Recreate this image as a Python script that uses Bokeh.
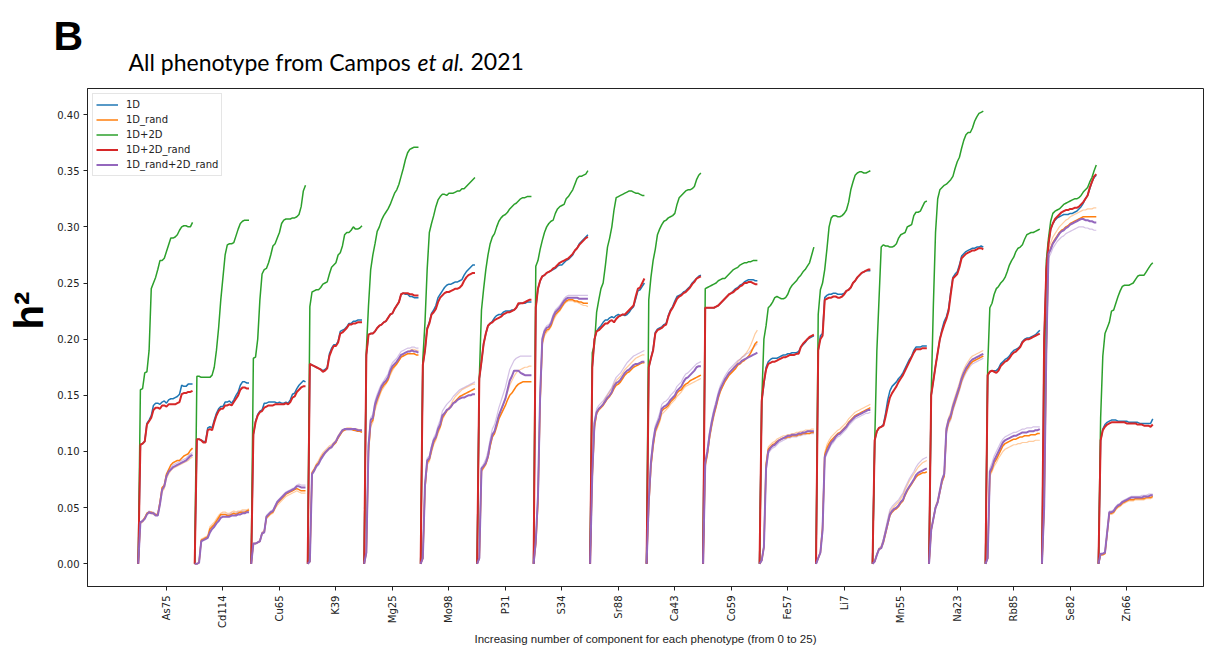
import math
from bokeh.plotting import figure
from bokeh.layouts import column, row
from bokeh.models import Range1d, FixedTicker, Label, Legend, LegendItem, NumeralTickFormatter
from bokeh.embed import file_html
from bokeh.resources import INLINE

phenotypes = ["As75", "Cd114", "Cu65", "K39", "Mg25", "Mo98", "P31", "S34", "Sr88",
              "Ca43", "Co59", "Fe57", "Li7", "Mn55", "Na23", "Rb85", "Se82", "Zn66"]
n_components = 26  # 0..25 components per phenotype
y_ticks = [0.00, 0.05, 0.10, 0.15, 0.20, 0.25, 0.30, 0.35, 0.40]

# h2 for "1D"
h2_1D = [
    [0, 0.106, 0.107, 0.109, 0.125, 0.128, 0.132, 0.141, 0.143, 0.143, 0.142, 0.144, 0.145, 0.143, 0.146, 0.147, 0.147, 0.148, 0.149, 0.151, 0.159, 0.158, 0.158, 0.160, 0.160, 0.160],
    [0, 0.111, 0.111, 0.110, 0.109, 0.109, 0.121, 0.122, 0.121, 0.128, 0.134, 0.138, 0.140, 0.140, 0.144, 0.144, 0.145, 0.143, 0.146, 0.150, 0.153, 0.159, 0.162, 0.162, 0.161, 0.161],
    [0, 0.115, 0.127, 0.133, 0.136, 0.137, 0.143, 0.143, 0.144, 0.144, 0.144, 0.144, 0.143, 0.144, 0.143, 0.143, 0.144, 0.143, 0.146, 0.151, 0.152, 0.156, 0.159, 0.161, 0.163, 0.162],
    [0, 0.178, 0.177, 0.176, 0.175, 0.174, 0.173, 0.172, 0.173, 0.175, 0.187, 0.192, 0.195, 0.195, 0.198, 0.207, 0.208, 0.209, 0.211, 0.214, 0.214, 0.216, 0.216, 0.217, 0.217, 0.217],
    [0, 0.186, 0.204, 0.205, 0.205, 0.207, 0.210, 0.212, 0.213, 0.215, 0.216, 0.219, 0.222, 0.223, 0.227, 0.230, 0.233, 0.240, 0.241, 0.240, 0.240, 0.238, 0.238, 0.237, 0.237, 0.237],
    [0, 0.177, 0.190, 0.210, 0.215, 0.223, 0.226, 0.230, 0.237, 0.240, 0.243, 0.246, 0.248, 0.249, 0.249, 0.250, 0.251, 0.251, 0.252, 0.253, 0.257, 0.260, 0.262, 0.264, 0.266, 0.266],
    [0, 0.165, 0.180, 0.196, 0.205, 0.212, 0.214, 0.216, 0.219, 0.221, 0.222, 0.222, 0.224, 0.225, 0.225, 0.225, 0.226, 0.226, 0.228, 0.231, 0.232, 0.232, 0.232, 0.233, 0.233, 0.233],
    [0, 0.228, 0.245, 0.252, 0.256, 0.257, 0.259, 0.260, 0.261, 0.262, 0.263, 0.265, 0.266, 0.266, 0.268, 0.270, 0.271, 0.273, 0.275, 0.279, 0.281, 0.285, 0.287, 0.289, 0.291, 0.293],
    [0, 0.175, 0.200, 0.207, 0.210, 0.212, 0.215, 0.217, 0.217, 0.219, 0.220, 0.219, 0.221, 0.222, 0.221, 0.222, 0.221, 0.222, 0.224, 0.227, 0.229, 0.236, 0.243, 0.244, 0.247, 0.250],
    [0, 0.175, 0.183, 0.191, 0.206, 0.209, 0.210, 0.211, 0.213, 0.214, 0.221, 0.226, 0.229, 0.234, 0.238, 0.239, 0.240, 0.242, 0.243, 0.245, 0.247, 0.250, 0.252, 0.254, 0.256, 0.257],
    [0, 0.228, 0.228, 0.228, 0.228, 0.228, 0.229, 0.230, 0.232, 0.234, 0.236, 0.238, 0.240, 0.241, 0.243, 0.245, 0.246, 0.248, 0.249, 0.251, 0.252, 0.253, 0.253, 0.253, 0.252, 0.252],
    [0, 0.145, 0.160, 0.175, 0.180, 0.182, 0.183, 0.183, 0.183, 0.184, 0.185, 0.186, 0.186, 0.187, 0.187, 0.188, 0.188, 0.188, 0.189, 0.193, 0.195, 0.197, 0.200, 0.201, 0.202, 0.203],
    [0, 0.190, 0.203, 0.205, 0.237, 0.239, 0.240, 0.240, 0.241, 0.241, 0.240, 0.240, 0.240, 0.241, 0.243, 0.244, 0.246, 0.250, 0.252, 0.255, 0.257, 0.259, 0.260, 0.261, 0.261, 0.261],
    [0, 0.110, 0.118, 0.121, 0.122, 0.124, 0.134, 0.146, 0.154, 0.158, 0.160, 0.162, 0.165, 0.167, 0.170, 0.174, 0.178, 0.182, 0.185, 0.190, 0.193, 0.193, 0.193, 0.194, 0.194, 0.194],
    [0, 0.150, 0.163, 0.176, 0.188, 0.200, 0.209, 0.216, 0.220, 0.227, 0.242, 0.255, 0.258, 0.260, 0.266, 0.274, 0.276, 0.278, 0.279, 0.280, 0.281, 0.281, 0.282, 0.282, 0.283, 0.282],
    [0, 0.168, 0.171, 0.172, 0.172, 0.172, 0.174, 0.178, 0.180, 0.182, 0.183, 0.185, 0.188, 0.190, 0.191, 0.192, 0.194, 0.198, 0.200, 0.201, 0.201, 0.202, 0.203, 0.204, 0.206, 0.208],
    [0, 0.200, 0.262, 0.285, 0.298, 0.303, 0.306, 0.308, 0.309, 0.310, 0.311, 0.311, 0.311, 0.312, 0.312, 0.313, 0.314, 0.316, 0.318, 0.321, 0.325, 0.328, 0.334, 0.340, 0.344, 0.346],
    [0, 0.110, 0.120, 0.124, 0.126, 0.127, 0.128, 0.128, 0.128, 0.127, 0.127, 0.127, 0.127, 0.127, 0.126, 0.126, 0.126, 0.126, 0.126, 0.125, 0.125, 0.125, 0.125, 0.125, 0.125, 0.129],
]

# h2 for "1D_rand" (main run)
h2_1D_rand = [
    [0, 0.037, 0.038, 0.041, 0.045, 0.046, 0.046, 0.045, 0.044, 0.044, 0.055, 0.068, 0.070, 0.080, 0.084, 0.088, 0.090, 0.091, 0.092, 0.092, 0.094, 0.096, 0.097, 0.098, 0.101, 0.103],
    [0, 0.000, 0.001, 0.021, 0.022, 0.023, 0.024, 0.031, 0.033, 0.035, 0.038, 0.041, 0.044, 0.044, 0.044, 0.043, 0.043, 0.044, 0.045, 0.044, 0.045, 0.046, 0.046, 0.046, 0.047, 0.048],
    [0, 0.018, 0.018, 0.019, 0.020, 0.027, 0.028, 0.041, 0.043, 0.045, 0.046, 0.050, 0.054, 0.056, 0.058, 0.060, 0.062, 0.063, 0.064, 0.065, 0.066, 0.067, 0.066, 0.065, 0.065, 0.065],
    [0, 0.002, 0.081, 0.084, 0.088, 0.090, 0.094, 0.097, 0.099, 0.101, 0.103, 0.104, 0.106, 0.108, 0.112, 0.115, 0.118, 0.119, 0.120, 0.120, 0.120, 0.119, 0.119, 0.118, 0.118, 0.117],
    [0, 0.010, 0.100, 0.125, 0.128, 0.140, 0.146, 0.151, 0.156, 0.159, 0.161, 0.164, 0.170, 0.174, 0.176, 0.178, 0.181, 0.184, 0.185, 0.186, 0.187, 0.187, 0.187, 0.187, 0.186, 0.186],
    [0, 0.005, 0.068, 0.090, 0.093, 0.101, 0.108, 0.112, 0.118, 0.122, 0.130, 0.133, 0.136, 0.138, 0.140, 0.143, 0.145, 0.147, 0.149, 0.150, 0.151, 0.152, 0.153, 0.154, 0.155, 0.156],
    [0, 0.005, 0.083, 0.086, 0.089, 0.095, 0.105, 0.113, 0.116, 0.122, 0.129, 0.133, 0.137, 0.141, 0.146, 0.150, 0.152, 0.155, 0.158, 0.160, 0.161, 0.162, 0.162, 0.162, 0.162, 0.162],
    [0, 0.018, 0.055, 0.145, 0.197, 0.205, 0.208, 0.209, 0.212, 0.218, 0.222, 0.224, 0.226, 0.229, 0.232, 0.234, 0.235, 0.235, 0.235, 0.234, 0.234, 0.233, 0.233, 0.232, 0.232, 0.232],
    [0, 0.078, 0.122, 0.134, 0.137, 0.139, 0.141, 0.144, 0.147, 0.149, 0.152, 0.156, 0.159, 0.160, 0.162, 0.165, 0.168, 0.170, 0.171, 0.173, 0.175, 0.176, 0.177, 0.178, 0.179, 0.179],
    [0, 0.052, 0.087, 0.105, 0.118, 0.123, 0.128, 0.136, 0.138, 0.139, 0.141, 0.144, 0.146, 0.148, 0.152, 0.154, 0.155, 0.158, 0.160, 0.161, 0.163, 0.164, 0.165, 0.166, 0.167, 0.168],
    [0, 0.088, 0.098, 0.113, 0.124, 0.133, 0.140, 0.148, 0.154, 0.158, 0.162, 0.165, 0.168, 0.170, 0.172, 0.174, 0.177, 0.178, 0.180, 0.181, 0.183, 0.185, 0.188, 0.192, 0.196, 0.198],
    [0, 0.003, 0.015, 0.088, 0.102, 0.104, 0.106, 0.107, 0.109, 0.110, 0.111, 0.112, 0.112, 0.113, 0.113, 0.114, 0.114, 0.114, 0.115, 0.115, 0.116, 0.116, 0.116, 0.116, 0.117, 0.117],
    [0, 0.005, 0.010, 0.032, 0.097, 0.103, 0.107, 0.110, 0.112, 0.114, 0.116, 0.117, 0.119, 0.121, 0.123, 0.126, 0.128, 0.130, 0.132, 0.133, 0.134, 0.135, 0.136, 0.137, 0.138, 0.139],
    [0, 0.002, 0.008, 0.013, 0.014, 0.019, 0.027, 0.035, 0.043, 0.046, 0.048, 0.049, 0.051, 0.054, 0.056, 0.061, 0.065, 0.068, 0.071, 0.074, 0.077, 0.079, 0.080, 0.081, 0.081, 0.082],
    [0, 0.030, 0.040, 0.050, 0.055, 0.064, 0.073, 0.078, 0.118, 0.126, 0.130, 0.138, 0.144, 0.150, 0.156, 0.163, 0.168, 0.172, 0.175, 0.178, 0.180, 0.181, 0.182, 0.183, 0.184, 0.185],
    [0, 0.005, 0.080, 0.084, 0.090, 0.093, 0.097, 0.101, 0.105, 0.107, 0.108, 0.109, 0.110, 0.111, 0.111, 0.112, 0.113, 0.113, 0.114, 0.114, 0.114, 0.115, 0.115, 0.115, 0.116, 0.116],
    [0, 0.050, 0.190, 0.276, 0.281, 0.286, 0.289, 0.292, 0.295, 0.297, 0.298, 0.300, 0.301, 0.303, 0.304, 0.305, 0.306, 0.307, 0.308, 0.309, 0.309, 0.309, 0.309, 0.309, 0.309, 0.309],
    [0, 0.008, 0.008, 0.009, 0.027, 0.045, 0.045, 0.046, 0.049, 0.051, 0.052, 0.054, 0.055, 0.056, 0.057, 0.057, 0.057, 0.058, 0.058, 0.058, 0.058, 0.058, 0.059, 0.059, 0.059, 0.060],
]

# h2 for "1D_rand" (another random run, drawn faint)
h2_1D_rand_rep = [
    [0, 0.036, 0.037, 0.040, 0.044, 0.045, 0.045, 0.044, 0.043, 0.043, 0.052, 0.064, 0.067, 0.076, 0.080, 0.083, 0.085, 0.086, 0.087, 0.088, 0.089, 0.090, 0.091, 0.092, 0.094, 0.095],
    [0, 0.000, 0.001, 0.022, 0.023, 0.024, 0.025, 0.033, 0.035, 0.037, 0.040, 0.043, 0.045, 0.046, 0.046, 0.045, 0.045, 0.046, 0.047, 0.046, 0.047, 0.047, 0.048, 0.048, 0.048, 0.049],
    [0, 0.018, 0.018, 0.019, 0.021, 0.028, 0.030, 0.040, 0.042, 0.044, 0.045, 0.049, 0.052, 0.054, 0.056, 0.058, 0.060, 0.061, 0.062, 0.063, 0.064, 0.065, 0.064, 0.063, 0.063, 0.063],
    [0, 0.002, 0.082, 0.085, 0.089, 0.092, 0.096, 0.099, 0.101, 0.103, 0.105, 0.106, 0.108, 0.110, 0.114, 0.117, 0.119, 0.120, 0.121, 0.121, 0.121, 0.120, 0.120, 0.120, 0.119, 0.119],
    [0, 0.010, 0.098, 0.122, 0.126, 0.137, 0.143, 0.149, 0.154, 0.157, 0.160, 0.163, 0.168, 0.172, 0.175, 0.178, 0.181, 0.184, 0.186, 0.188, 0.189, 0.190, 0.191, 0.191, 0.190, 0.190],
    [0, 0.005, 0.066, 0.088, 0.091, 0.099, 0.106, 0.110, 0.116, 0.121, 0.128, 0.132, 0.136, 0.139, 0.142, 0.146, 0.149, 0.151, 0.153, 0.155, 0.156, 0.157, 0.158, 0.159, 0.160, 0.160],
    [0, 0.005, 0.082, 0.085, 0.088, 0.094, 0.104, 0.112, 0.117, 0.124, 0.132, 0.137, 0.142, 0.147, 0.153, 0.159, 0.163, 0.167, 0.170, 0.172, 0.173, 0.174, 0.175, 0.175, 0.176, 0.176],
    [0, 0.018, 0.055, 0.140, 0.195, 0.203, 0.206, 0.208, 0.211, 0.216, 0.220, 0.223, 0.225, 0.228, 0.231, 0.233, 0.234, 0.234, 0.234, 0.233, 0.233, 0.232, 0.231, 0.230, 0.230, 0.229],
    [0, 0.076, 0.120, 0.133, 0.137, 0.140, 0.143, 0.147, 0.150, 0.153, 0.156, 0.160, 0.163, 0.165, 0.167, 0.170, 0.173, 0.175, 0.177, 0.179, 0.181, 0.183, 0.184, 0.185, 0.186, 0.186],
    [0, 0.050, 0.085, 0.103, 0.116, 0.121, 0.126, 0.133, 0.135, 0.137, 0.139, 0.142, 0.144, 0.146, 0.149, 0.151, 0.153, 0.156, 0.158, 0.159, 0.160, 0.161, 0.162, 0.163, 0.164, 0.165],
    [0, 0.086, 0.096, 0.111, 0.122, 0.131, 0.139, 0.147, 0.153, 0.158, 0.162, 0.166, 0.169, 0.172, 0.175, 0.177, 0.180, 0.182, 0.184, 0.186, 0.188, 0.191, 0.195, 0.200, 0.205, 0.208],
    [0, 0.003, 0.016, 0.090, 0.104, 0.106, 0.108, 0.109, 0.111, 0.112, 0.113, 0.114, 0.114, 0.115, 0.115, 0.116, 0.116, 0.117, 0.117, 0.118, 0.118, 0.119, 0.119, 0.119, 0.120, 0.120],
    [0, 0.005, 0.011, 0.034, 0.099, 0.106, 0.110, 0.113, 0.115, 0.117, 0.119, 0.120, 0.122, 0.124, 0.126, 0.129, 0.131, 0.133, 0.135, 0.136, 0.137, 0.138, 0.139, 0.140, 0.141, 0.142],
    [0, 0.002, 0.009, 0.014, 0.016, 0.022, 0.030, 0.038, 0.046, 0.049, 0.051, 0.053, 0.055, 0.058, 0.061, 0.066, 0.070, 0.074, 0.077, 0.080, 0.083, 0.086, 0.088, 0.090, 0.091, 0.092],
    [0, 0.030, 0.041, 0.051, 0.057, 0.066, 0.075, 0.081, 0.122, 0.130, 0.135, 0.143, 0.149, 0.155, 0.161, 0.168, 0.173, 0.177, 0.180, 0.183, 0.185, 0.186, 0.187, 0.188, 0.189, 0.190],
    [0, 0.005, 0.078, 0.082, 0.087, 0.090, 0.094, 0.097, 0.100, 0.102, 0.103, 0.104, 0.105, 0.106, 0.106, 0.107, 0.107, 0.108, 0.108, 0.108, 0.109, 0.109, 0.109, 0.110, 0.110, 0.110],
    [0, 0.050, 0.195, 0.280, 0.286, 0.291, 0.294, 0.297, 0.300, 0.302, 0.304, 0.306, 0.307, 0.309, 0.310, 0.311, 0.312, 0.313, 0.314, 0.315, 0.315, 0.316, 0.316, 0.316, 0.317, 0.317],
    [0, 0.008, 0.008, 0.009, 0.026, 0.044, 0.044, 0.045, 0.048, 0.050, 0.051, 0.053, 0.054, 0.055, 0.056, 0.056, 0.056, 0.057, 0.057, 0.057, 0.057, 0.057, 0.058, 0.058, 0.058, 0.059],
]

# h2 for "1D+2D"
h2_1D_2D = [
    [0, 0.155, 0.156, 0.170, 0.171, 0.190, 0.245, 0.250, 0.255, 0.262, 0.270, 0.270, 0.272, 0.278, 0.284, 0.290, 0.290, 0.291, 0.293, 0.297, 0.300, 0.301, 0.301, 0.300, 0.300, 0.304],
    [0, 0.167, 0.167, 0.166, 0.166, 0.166, 0.166, 0.166, 0.168, 0.175, 0.190, 0.210, 0.235, 0.255, 0.275, 0.284, 0.285, 0.285, 0.286, 0.292, 0.298, 0.303, 0.305, 0.306, 0.306, 0.306],
    [0, 0.183, 0.184, 0.200, 0.235, 0.258, 0.262, 0.263, 0.268, 0.275, 0.283, 0.285, 0.290, 0.295, 0.303, 0.306, 0.307, 0.307, 0.307, 0.308, 0.308, 0.309, 0.311, 0.318, 0.332, 0.337],
    [0, 0.229, 0.242, 0.243, 0.244, 0.244, 0.246, 0.249, 0.250, 0.251, 0.258, 0.264, 0.266, 0.268, 0.275, 0.277, 0.283, 0.293, 0.295, 0.295, 0.297, 0.300, 0.298, 0.298, 0.299, 0.301],
    [0, 0.190, 0.230, 0.262, 0.275, 0.285, 0.296, 0.300, 0.306, 0.310, 0.313, 0.316, 0.320, 0.325, 0.330, 0.333, 0.338, 0.345, 0.352, 0.360, 0.366, 0.369, 0.370, 0.371, 0.371, 0.371],
    [0, 0.182, 0.215, 0.262, 0.295, 0.303, 0.310, 0.318, 0.324, 0.327, 0.329, 0.329, 0.328, 0.330, 0.330, 0.330, 0.331, 0.332, 0.332, 0.334, 0.334, 0.336, 0.338, 0.340, 0.342, 0.344],
    [0, 0.165, 0.226, 0.245, 0.262, 0.275, 0.285, 0.291, 0.294, 0.300, 0.305, 0.308, 0.310, 0.311, 0.313, 0.316, 0.318, 0.320, 0.321, 0.323, 0.325, 0.326, 0.326, 0.327, 0.327, 0.327],
    [0, 0.265, 0.270, 0.280, 0.288, 0.295, 0.300, 0.303, 0.305, 0.306, 0.312, 0.316, 0.318, 0.319, 0.320, 0.325, 0.327, 0.330, 0.333, 0.338, 0.343, 0.345, 0.345, 0.346, 0.347, 0.350],
    [0, 0.188, 0.195, 0.224, 0.235, 0.245, 0.250, 0.265, 0.282, 0.290, 0.300, 0.315, 0.326, 0.327, 0.328, 0.329, 0.330, 0.331, 0.332, 0.332, 0.331, 0.330, 0.330, 0.329, 0.328, 0.328],
    [0, 0.235, 0.255, 0.270, 0.280, 0.293, 0.298, 0.302, 0.305, 0.306, 0.308, 0.309, 0.310, 0.312, 0.320, 0.326, 0.328, 0.330, 0.332, 0.333, 0.333, 0.334, 0.336, 0.342, 0.346, 0.348],
    [0, 0.245, 0.246, 0.247, 0.248, 0.249, 0.250, 0.252, 0.253, 0.254, 0.254, 0.256, 0.258, 0.260, 0.262, 0.263, 0.264, 0.266, 0.267, 0.268, 0.268, 0.269, 0.269, 0.270, 0.270, 0.270],
    [0, 0.145, 0.200, 0.212, 0.228, 0.230, 0.233, 0.237, 0.238, 0.237, 0.236, 0.236, 0.237, 0.240, 0.245, 0.248, 0.250, 0.252, 0.255, 0.257, 0.260, 0.262, 0.265, 0.268, 0.275, 0.282],
    [0, 0.222, 0.244, 0.250, 0.262, 0.280, 0.300, 0.308, 0.310, 0.310, 0.309, 0.309, 0.310, 0.312, 0.315, 0.322, 0.333, 0.340, 0.346, 0.348, 0.349, 0.349, 0.348, 0.348, 0.349, 0.350],
    [0, 0.108, 0.190, 0.236, 0.282, 0.284, 0.283, 0.283, 0.282, 0.282, 0.283, 0.285, 0.290, 0.293, 0.294, 0.295, 0.300, 0.301, 0.302, 0.310, 0.313, 0.313, 0.314, 0.318, 0.322, 0.323],
    [0, 0.150, 0.230, 0.295, 0.325, 0.333, 0.335, 0.337, 0.338, 0.340, 0.342, 0.345, 0.352, 0.358, 0.362, 0.370, 0.377, 0.382, 0.384, 0.384, 0.388, 0.394, 0.398, 0.401, 0.402, 0.403],
    [0, 0.175, 0.228, 0.232, 0.240, 0.245, 0.247, 0.250, 0.252, 0.255, 0.260, 0.266, 0.270, 0.273, 0.278, 0.281, 0.282, 0.284, 0.289, 0.293, 0.294, 0.295, 0.295, 0.296, 0.297, 0.298],
    [0, 0.150, 0.270, 0.290, 0.305, 0.312, 0.314, 0.315, 0.316, 0.318, 0.320, 0.321, 0.322, 0.323, 0.324, 0.325, 0.325, 0.326, 0.328, 0.331, 0.333, 0.335, 0.340, 0.344, 0.350, 0.355],
    [0, 0.130, 0.185, 0.205, 0.210, 0.215, 0.225, 0.226, 0.232, 0.238, 0.243, 0.247, 0.248, 0.248, 0.248, 0.249, 0.250, 0.253, 0.256, 0.257, 0.257, 0.257, 0.260, 0.263, 0.266, 0.268],
]

# h2 for "1D+2D_rand"
h2_1D_2D_rand = [
    [0, 0.106, 0.107, 0.109, 0.124, 0.127, 0.130, 0.137, 0.139, 0.139, 0.138, 0.141, 0.141, 0.140, 0.142, 0.142, 0.142, 0.142, 0.143, 0.144, 0.151, 0.152, 0.152, 0.153, 0.153, 0.154],
    [0, 0.111, 0.111, 0.110, 0.108, 0.108, 0.119, 0.120, 0.119, 0.126, 0.132, 0.136, 0.138, 0.138, 0.141, 0.141, 0.142, 0.141, 0.144, 0.147, 0.150, 0.155, 0.157, 0.157, 0.156, 0.156],
    [0, 0.115, 0.126, 0.132, 0.135, 0.136, 0.139, 0.140, 0.141, 0.141, 0.141, 0.142, 0.142, 0.142, 0.142, 0.142, 0.143, 0.142, 0.144, 0.148, 0.149, 0.153, 0.155, 0.157, 0.158, 0.158],
    [0, 0.178, 0.177, 0.176, 0.175, 0.174, 0.173, 0.171, 0.172, 0.174, 0.185, 0.190, 0.194, 0.194, 0.197, 0.205, 0.206, 0.208, 0.210, 0.213, 0.213, 0.214, 0.214, 0.215, 0.215, 0.215],
    [0, 0.186, 0.204, 0.205, 0.205, 0.207, 0.210, 0.212, 0.213, 0.215, 0.216, 0.219, 0.222, 0.223, 0.227, 0.230, 0.233, 0.240, 0.241, 0.241, 0.241, 0.240, 0.240, 0.239, 0.239, 0.239],
    [0, 0.177, 0.190, 0.209, 0.214, 0.222, 0.224, 0.227, 0.233, 0.237, 0.239, 0.241, 0.242, 0.242, 0.243, 0.244, 0.245, 0.245, 0.246, 0.248, 0.252, 0.255, 0.257, 0.258, 0.259, 0.259],
    [0, 0.165, 0.180, 0.196, 0.205, 0.212, 0.214, 0.215, 0.217, 0.218, 0.219, 0.220, 0.222, 0.223, 0.224, 0.224, 0.225, 0.226, 0.228, 0.232, 0.232, 0.232, 0.233, 0.234, 0.235, 0.235],
    [0, 0.228, 0.245, 0.252, 0.256, 0.257, 0.259, 0.260, 0.261, 0.263, 0.264, 0.266, 0.268, 0.269, 0.270, 0.271, 0.272, 0.274, 0.276, 0.279, 0.281, 0.284, 0.286, 0.288, 0.290, 0.291],
    [0, 0.175, 0.200, 0.207, 0.208, 0.210, 0.212, 0.214, 0.214, 0.216, 0.217, 0.215, 0.218, 0.220, 0.221, 0.222, 0.222, 0.224, 0.226, 0.228, 0.230, 0.238, 0.245, 0.246, 0.250, 0.254],
    [0, 0.175, 0.183, 0.190, 0.205, 0.208, 0.209, 0.210, 0.212, 0.213, 0.220, 0.225, 0.228, 0.232, 0.236, 0.238, 0.239, 0.241, 0.242, 0.244, 0.246, 0.249, 0.251, 0.254, 0.255, 0.256],
    [0, 0.228, 0.228, 0.228, 0.228, 0.228, 0.229, 0.230, 0.232, 0.234, 0.236, 0.238, 0.240, 0.241, 0.242, 0.244, 0.245, 0.247, 0.248, 0.250, 0.250, 0.251, 0.251, 0.250, 0.249, 0.249],
    [0, 0.145, 0.162, 0.173, 0.178, 0.179, 0.180, 0.180, 0.181, 0.182, 0.183, 0.184, 0.184, 0.185, 0.186, 0.186, 0.186, 0.187, 0.187, 0.193, 0.196, 0.198, 0.200, 0.202, 0.203, 0.204],
    [0, 0.190, 0.200, 0.203, 0.235, 0.236, 0.237, 0.237, 0.238, 0.238, 0.237, 0.237, 0.238, 0.240, 0.243, 0.244, 0.246, 0.250, 0.252, 0.255, 0.257, 0.259, 0.260, 0.261, 0.262, 0.262],
    [0, 0.110, 0.118, 0.121, 0.122, 0.123, 0.131, 0.140, 0.148, 0.152, 0.155, 0.158, 0.162, 0.165, 0.168, 0.172, 0.176, 0.180, 0.184, 0.188, 0.191, 0.191, 0.191, 0.192, 0.192, 0.192],
    [0, 0.150, 0.163, 0.176, 0.188, 0.200, 0.207, 0.213, 0.218, 0.225, 0.240, 0.254, 0.256, 0.258, 0.264, 0.272, 0.274, 0.276, 0.277, 0.278, 0.279, 0.279, 0.280, 0.281, 0.281, 0.280],
    [0, 0.168, 0.171, 0.172, 0.171, 0.170, 0.172, 0.176, 0.178, 0.180, 0.181, 0.183, 0.186, 0.188, 0.189, 0.191, 0.193, 0.197, 0.199, 0.200, 0.200, 0.201, 0.202, 0.203, 0.204, 0.205],
    [0, 0.200, 0.262, 0.285, 0.298, 0.303, 0.307, 0.309, 0.311, 0.313, 0.314, 0.315, 0.315, 0.316, 0.316, 0.317, 0.317, 0.318, 0.320, 0.322, 0.325, 0.328, 0.335, 0.340, 0.345, 0.347],
    [0, 0.110, 0.119, 0.122, 0.124, 0.125, 0.126, 0.126, 0.126, 0.126, 0.126, 0.126, 0.126, 0.125, 0.125, 0.125, 0.125, 0.125, 0.124, 0.124, 0.124, 0.123, 0.123, 0.123, 0.122, 0.124],
]

# h2 for "1D_rand+2D_rand" (main run)
h2_1D_rand_2D_rand = [
    [0, 0.037, 0.038, 0.040, 0.044, 0.046, 0.045, 0.045, 0.043, 0.043, 0.053, 0.066, 0.069, 0.078, 0.082, 0.084, 0.086, 0.087, 0.088, 0.089, 0.090, 0.091, 0.092, 0.094, 0.096, 0.097],
    [0, 0.000, 0.001, 0.020, 0.021, 0.022, 0.023, 0.028, 0.031, 0.033, 0.036, 0.038, 0.041, 0.042, 0.042, 0.042, 0.042, 0.043, 0.043, 0.043, 0.044, 0.044, 0.045, 0.045, 0.046, 0.046],
    [0, 0.018, 0.018, 0.019, 0.020, 0.027, 0.028, 0.042, 0.044, 0.046, 0.047, 0.051, 0.055, 0.057, 0.059, 0.061, 0.063, 0.064, 0.065, 0.066, 0.067, 0.069, 0.069, 0.068, 0.068, 0.068],
    [0, 0.002, 0.080, 0.083, 0.087, 0.089, 0.093, 0.096, 0.099, 0.101, 0.103, 0.104, 0.107, 0.109, 0.113, 0.116, 0.119, 0.120, 0.120, 0.120, 0.120, 0.120, 0.120, 0.119, 0.119, 0.119],
    [0, 0.010, 0.105, 0.128, 0.130, 0.142, 0.148, 0.153, 0.158, 0.161, 0.163, 0.166, 0.172, 0.176, 0.178, 0.180, 0.183, 0.186, 0.187, 0.188, 0.189, 0.189, 0.190, 0.189, 0.189, 0.188],
    [0, 0.005, 0.070, 0.092, 0.094, 0.103, 0.110, 0.113, 0.120, 0.124, 0.132, 0.134, 0.137, 0.138, 0.140, 0.143, 0.144, 0.146, 0.147, 0.148, 0.148, 0.149, 0.150, 0.150, 0.151, 0.151],
    [0, 0.005, 0.085, 0.087, 0.090, 0.096, 0.107, 0.115, 0.118, 0.125, 0.132, 0.137, 0.142, 0.147, 0.155, 0.163, 0.167, 0.172, 0.172, 0.172, 0.170, 0.169, 0.168, 0.168, 0.168, 0.168],
    [0, 0.020, 0.060, 0.150, 0.200, 0.207, 0.210, 0.211, 0.214, 0.220, 0.224, 0.226, 0.228, 0.231, 0.234, 0.236, 0.237, 0.237, 0.237, 0.237, 0.237, 0.236, 0.236, 0.236, 0.236, 0.236],
    [0, 0.080, 0.125, 0.135, 0.138, 0.140, 0.142, 0.145, 0.148, 0.150, 0.153, 0.158, 0.161, 0.162, 0.164, 0.167, 0.170, 0.172, 0.173, 0.175, 0.177, 0.178, 0.178, 0.179, 0.180, 0.180],
    [0, 0.055, 0.090, 0.108, 0.120, 0.125, 0.130, 0.138, 0.140, 0.141, 0.143, 0.146, 0.148, 0.150, 0.154, 0.156, 0.158, 0.162, 0.165, 0.166, 0.168, 0.170, 0.172, 0.175, 0.176, 0.176],
    [0, 0.090, 0.100, 0.115, 0.126, 0.135, 0.142, 0.150, 0.156, 0.160, 0.164, 0.167, 0.170, 0.172, 0.174, 0.176, 0.178, 0.179, 0.181, 0.182, 0.183, 0.184, 0.185, 0.186, 0.187, 0.188],
    [0, 0.003, 0.015, 0.085, 0.100, 0.103, 0.105, 0.106, 0.108, 0.110, 0.111, 0.112, 0.113, 0.114, 0.114, 0.115, 0.115, 0.115, 0.116, 0.116, 0.117, 0.117, 0.118, 0.118, 0.118, 0.118],
    [0, 0.005, 0.010, 0.030, 0.095, 0.100, 0.104, 0.108, 0.110, 0.113, 0.115, 0.116, 0.118, 0.120, 0.122, 0.125, 0.127, 0.129, 0.131, 0.132, 0.133, 0.134, 0.135, 0.136, 0.137, 0.137],
    [0, 0.002, 0.008, 0.013, 0.014, 0.020, 0.028, 0.036, 0.044, 0.047, 0.049, 0.050, 0.052, 0.055, 0.057, 0.062, 0.066, 0.069, 0.072, 0.075, 0.079, 0.081, 0.082, 0.083, 0.084, 0.085],
    [0, 0.030, 0.040, 0.050, 0.055, 0.065, 0.075, 0.080, 0.120, 0.128, 0.132, 0.140, 0.146, 0.152, 0.158, 0.165, 0.170, 0.174, 0.177, 0.180, 0.182, 0.183, 0.184, 0.185, 0.186, 0.187],
    [0, 0.005, 0.082, 0.086, 0.092, 0.096, 0.100, 0.104, 0.108, 0.110, 0.111, 0.112, 0.113, 0.114, 0.114, 0.115, 0.116, 0.117, 0.117, 0.117, 0.118, 0.118, 0.118, 0.119, 0.119, 0.120],
    [0, 0.050, 0.190, 0.276, 0.280, 0.285, 0.288, 0.291, 0.294, 0.296, 0.297, 0.299, 0.300, 0.302, 0.303, 0.304, 0.305, 0.306, 0.307, 0.307, 0.306, 0.306, 0.305, 0.305, 0.304, 0.304],
    [0, 0.009, 0.009, 0.010, 0.028, 0.046, 0.046, 0.047, 0.050, 0.052, 0.053, 0.055, 0.056, 0.057, 0.058, 0.059, 0.059, 0.059, 0.059, 0.059, 0.059, 0.060, 0.060, 0.060, 0.061, 0.061],
]

# h2 for "1D_rand+2D_rand" (another random run, drawn faint)
h2_1D_rand_2D_rand_rep = [
    [0, 0.037, 0.039, 0.041, 0.045, 0.047, 0.046, 0.046, 0.044, 0.044, 0.055, 0.067, 0.070, 0.079, 0.083, 0.086, 0.088, 0.089, 0.090, 0.091, 0.092, 0.093, 0.094, 0.096, 0.098, 0.099],
    [0, 0.000, 0.001, 0.021, 0.022, 0.023, 0.024, 0.030, 0.033, 0.035, 0.038, 0.040, 0.043, 0.044, 0.044, 0.044, 0.044, 0.045, 0.045, 0.045, 0.046, 0.046, 0.047, 0.047, 0.047, 0.047],
    [0, 0.018, 0.018, 0.019, 0.021, 0.028, 0.029, 0.043, 0.045, 0.047, 0.048, 0.052, 0.056, 0.058, 0.060, 0.062, 0.064, 0.065, 0.066, 0.067, 0.068, 0.070, 0.071, 0.070, 0.070, 0.070],
    [0, 0.002, 0.079, 0.082, 0.086, 0.088, 0.092, 0.095, 0.098, 0.100, 0.102, 0.103, 0.106, 0.108, 0.112, 0.115, 0.118, 0.119, 0.119, 0.119, 0.119, 0.119, 0.118, 0.118, 0.118, 0.118],
    [0, 0.010, 0.108, 0.130, 0.133, 0.145, 0.151, 0.156, 0.160, 0.163, 0.166, 0.169, 0.175, 0.179, 0.181, 0.183, 0.186, 0.189, 0.190, 0.191, 0.192, 0.192, 0.193, 0.193, 0.192, 0.192],
    [0, 0.005, 0.072, 0.094, 0.096, 0.105, 0.112, 0.116, 0.123, 0.128, 0.136, 0.139, 0.142, 0.144, 0.146, 0.149, 0.151, 0.153, 0.155, 0.156, 0.157, 0.158, 0.159, 0.160, 0.161, 0.162],
    [0, 0.005, 0.086, 0.089, 0.093, 0.100, 0.111, 0.120, 0.124, 0.131, 0.139, 0.145, 0.151, 0.157, 0.165, 0.173, 0.177, 0.181, 0.183, 0.184, 0.185, 0.185, 0.185, 0.185, 0.185, 0.185],
    [0, 0.020, 0.062, 0.155, 0.202, 0.209, 0.212, 0.213, 0.216, 0.222, 0.226, 0.228, 0.230, 0.233, 0.236, 0.238, 0.239, 0.239, 0.239, 0.239, 0.239, 0.239, 0.239, 0.239, 0.239, 0.239],
    [0, 0.082, 0.128, 0.138, 0.141, 0.143, 0.145, 0.148, 0.151, 0.154, 0.157, 0.162, 0.166, 0.168, 0.170, 0.173, 0.176, 0.179, 0.181, 0.183, 0.185, 0.186, 0.187, 0.188, 0.189, 0.190],
    [0, 0.057, 0.093, 0.111, 0.123, 0.128, 0.134, 0.142, 0.144, 0.145, 0.147, 0.150, 0.152, 0.154, 0.158, 0.160, 0.162, 0.166, 0.169, 0.170, 0.172, 0.174, 0.176, 0.178, 0.179, 0.180],
    [0, 0.092, 0.103, 0.118, 0.129, 0.138, 0.145, 0.153, 0.159, 0.163, 0.167, 0.170, 0.173, 0.175, 0.177, 0.179, 0.181, 0.182, 0.184, 0.185, 0.187, 0.188, 0.190, 0.192, 0.194, 0.196],
    [0, 0.003, 0.014, 0.083, 0.098, 0.101, 0.103, 0.104, 0.106, 0.108, 0.109, 0.110, 0.111, 0.112, 0.112, 0.113, 0.113, 0.113, 0.114, 0.114, 0.115, 0.115, 0.116, 0.116, 0.116, 0.116],
    [0, 0.005, 0.010, 0.028, 0.093, 0.098, 0.102, 0.106, 0.108, 0.111, 0.113, 0.114, 0.116, 0.118, 0.120, 0.123, 0.125, 0.127, 0.129, 0.130, 0.131, 0.132, 0.133, 0.134, 0.134, 0.135],
    [0, 0.002, 0.008, 0.013, 0.015, 0.022, 0.031, 0.040, 0.048, 0.051, 0.053, 0.055, 0.057, 0.060, 0.063, 0.068, 0.072, 0.076, 0.079, 0.082, 0.086, 0.089, 0.091, 0.093, 0.094, 0.095],
    [0, 0.030, 0.039, 0.049, 0.054, 0.063, 0.072, 0.078, 0.116, 0.124, 0.128, 0.136, 0.142, 0.148, 0.154, 0.161, 0.166, 0.170, 0.173, 0.176, 0.178, 0.179, 0.180, 0.181, 0.182, 0.183],
    [0, 0.005, 0.085, 0.090, 0.096, 0.100, 0.104, 0.108, 0.111, 0.113, 0.114, 0.115, 0.116, 0.117, 0.117, 0.118, 0.119, 0.120, 0.120, 0.121, 0.121, 0.121, 0.122, 0.122, 0.122, 0.122],
    [0, 0.050, 0.185, 0.272, 0.276, 0.281, 0.284, 0.287, 0.289, 0.291, 0.292, 0.294, 0.295, 0.296, 0.297, 0.298, 0.299, 0.300, 0.300, 0.300, 0.299, 0.299, 0.298, 0.298, 0.297, 0.297],
    [0, 0.009, 0.009, 0.011, 0.029, 0.047, 0.047, 0.048, 0.051, 0.053, 0.054, 0.056, 0.057, 0.058, 0.059, 0.060, 0.060, 0.060, 0.060, 0.060, 0.061, 0.061, 0.061, 0.062, 0.062, 0.062],
]

series = [
    ("1D", h2_1D, "#1f77b4", 1.5),
    ("1D_rand", h2_1D_rand, "#ff7f0e", 1.5),
    ("1D+2D", h2_1D_2D, "#2ca02c", 1.5),
    ("1D+2D_rand", h2_1D_2D_rand, "#d62728", 2.0),
    ("1D_rand+2D_rand", h2_1D_rand_2D_rand, "#9467bd", 2.0),
]
faint_runs = [
    (h2_1D_rand_rep, "#ff7f0e"),
    (h2_1D_rand_2D_rand_rep, "#9467bd"),
]

W, H_HEAD, H_MAIN, W_SIDE = 1205, 86, 561, 54


def blank(width, height):
    f = figure(width=width, height=height, output_backend="svg", toolbar_location=None,
               x_range=Range1d(0, width), y_range=Range1d(0, height),
               min_border=0, x_axis_type=None, y_axis_type=None)
    f.frame_align = False
    f.outline_line_color = None
    f.background_fill_color = "white"
    f.border_fill_color = "white"
    return f


# ---------- header (panel letter and title); data units = pixels ----------
header = blank(W, H_HEAD)
header.add_layout(Label(x=53, y=H_HEAD - 35, text="B", text_font="Liberation Sans",
                        text_font_style="bold", text_font_size="41px",
                        text_baseline="middle", text_color="black"))
title_parts = [("All phenotype from Campos", "normal", 128),
               ("et al.", "italic", 417),
               ("2021", "normal", 470)]
for txt, style, x0 in title_parts:
    header.add_layout(Label(x=x0, y=H_HEAD - 61, text=txt, text_font="Lato",
                            text_font_style=style, text_font_size="23px",
                            text_baseline="middle", text_color="black"))

# ---------- side strip with the y-axis title ----------
side = blank(W_SIDE, H_MAIN)
side.add_layout(Label(x=28, y=H_MAIN - (310 - H_HEAD), text="h²", angle=math.pi / 2,
                      text_align="center", text_baseline="middle",
                      text_font="Liberation Sans", text_font_style="bold",
                      text_font_size="40px", text_color="black"))

# ---------- main plot ----------
p = figure(width=W - W_SIDE, height=H_MAIN, output_backend="svg", toolbar_location=None,
           x_range=Range1d(-23.35, 490.35), y_range=Range1d(-0.0202, 0.4232),
           min_border_left=85 - W_SIDE, min_border_right=2, min_border_top=2,
           min_border_bottom=59)
p.frame_align = False
p.background_fill_color = "white"
p.border_fill_color = "white"
p.outline_line_color = "#222222"
p.outline_line_width = 1
p.xgrid.visible = False
p.ygrid.visible = False

xs = [[i * n_components + k for k in range(n_components)] for i in range(len(phenotypes))]

# faint extra random runs underneath
for data, color in faint_runs:
    p.multi_line(xs, data, line_color=color, line_width=1.2, line_alpha=0.4)

items = []
for name, data, color, w in series:
    r = p.multi_line(xs, data, line_color=color, line_width=w)
    items.append(LegendItem(label=name, renderers=[r]))

legend = Legend(items=items, location="top_left", margin=5, padding=3, spacing=0,
                glyph_width=22, glyph_height=15, label_height=15, label_standoff=8,
                label_text_font="DejaVu Sans", label_text_font_size="10px",
                label_text_color="#222222", border_line_color="#cccccc",
                border_line_width=1, background_fill_alpha=0.8)
p.add_layout(legend)

tick_pos = [i * n_components + 13 for i in range(len(phenotypes))]
p.xaxis.ticker = FixedTicker(ticks=tick_pos)
p.xaxis.major_label_overrides = {t: name for t, name in zip(tick_pos, phenotypes)}
p.xaxis.major_label_orientation = math.pi / 2
p.yaxis.ticker = FixedTicker(ticks=y_ticks)
p.yaxis.formatter = NumeralTickFormatter(format="0.00")
for ax in (p.xaxis, p.yaxis):
    ax.minor_tick_line_color = None
    ax.major_tick_out = 4
    ax.major_tick_in = 0
    ax.major_label_text_font = "DejaVu Sans"
    ax.major_label_text_font_size = "10px"
    ax.major_label_text_color = "#222222"
    ax.axis_line_color = "#222222"
    ax.major_tick_line_color = "#222222"
p.xaxis.major_label_standoff = 5
p.yaxis.major_label_standoff = 4

p.xaxis.axis_label = "Increasing number of component for each phenotype (from 0 to 25)"
p.xaxis.axis_label_text_font = "Liberation Sans"
p.xaxis.axis_label_text_font_style = "normal"
p.xaxis.axis_label_text_font_size = "11.5px"
p.xaxis.axis_label_text_color = "#222222"
p.xaxis.axis_label_standoff = 2

layout = column(header, row(side, p, spacing=0), spacing=0)
open("out.html", "w").write(file_html(layout, INLINE))
